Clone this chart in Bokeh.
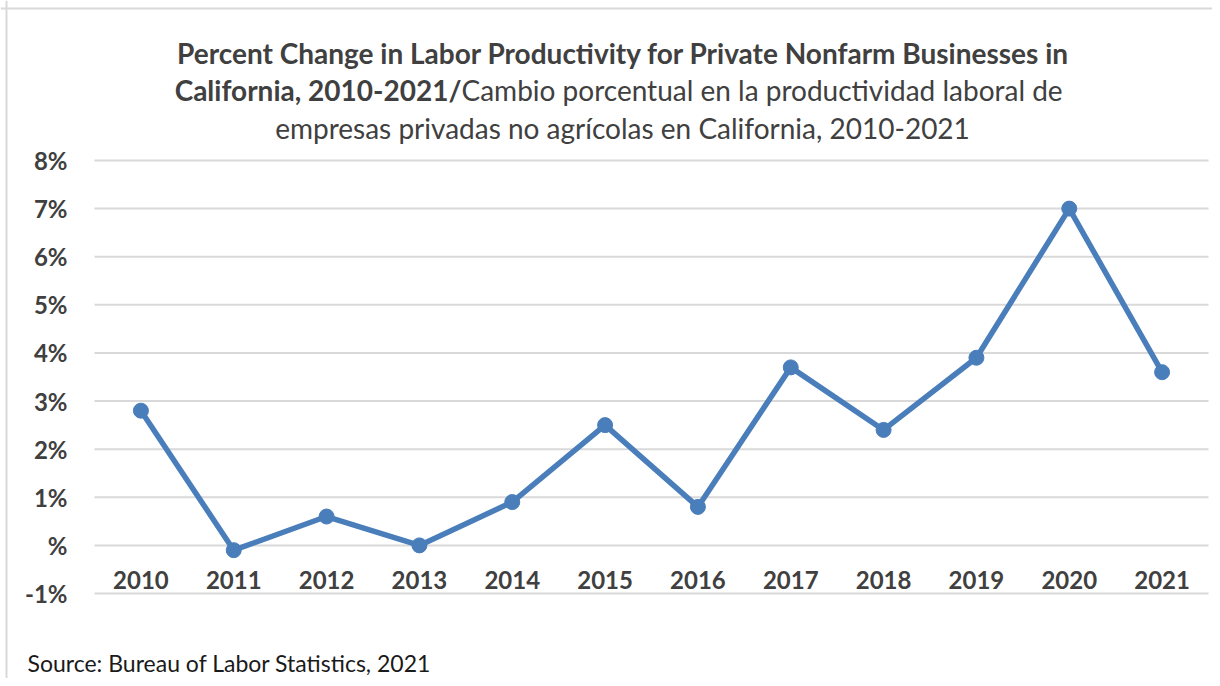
from bokeh.plotting import figure
from bokeh.models import Range1d, Label, Span
from bokeh.core.properties import value
from bokeh.embed import file_html
from bokeh.resources import INLINE

years = [2010, 2011, 2012, 2013, 2014, 2015, 2016, 2017, 2018, 2019, 2020, 2021]
year_labels = [str(y) for y in years]
productivity = [2.8, -0.1, 0.6, 0.0, 0.9, 2.5, 0.8, 3.7, 2.4, 3.9, 7.0, 3.6]
y_ticks = [-1, 0, 1, 2, 3, 4, 5, 6, 7, 8]
y_tick_labels = ["-1%", "%", "1%", "2%", "3%", "4%", "5%", "6%", "7%", "8%"]

title_bold_1 = "Percent Change in Labor Productivity for Private Nonfarm Businesses in"
title_bold_2 = "California, 2010-2021/"
title_norm_2 = "Cambio porcentual en la productividad laboral de"
title_norm_3 = "empresas privadas no agrícolas en California, 2010-2021"
source_text = "Source: Bureau of Labor Statistics, 2021"

FONT = "Lato"
BLUE = "#4a7ebb"
DARK = "#404040"

W, H = 1212, 678
# plot area geometry (page pixels)
FL, FT, FR, FB = 94, 160, 1208, 593
X0, X1 = 2009.5, 2021.5
Y0, Y1 = -1, 8
sx = (X1 - X0) / (FR - FL)
sy = (Y1 - Y0) / (FB - FT)

p = figure(width=W, height=H, output_backend="svg", toolbar_location=None,
           x_range=Range1d(X0 - FL * sx, X1 + (W - FR) * sx),
           y_range=Range1d(Y0 - (H - FB) * sy, Y1 + FT * sy),
           x_axis_location=None, y_axis_location=None, min_border=0)
p.outline_line_color = None
p.grid.visible = False

# chart-area border (left and top edges visible in the reference)
p.add_layout(Span(location=X0 - (FL - 6) * sx, dimension="height",
                  line_color="#d9d9d9", line_width=2))
p.add_layout(Span(location=Y1 + (FT - 8) * sy, dimension="width",
                  line_color="#d9d9d9", line_width=2))

# horizontal gridlines at the y ticks, spanning the plot area
p.segment(x0=[X0] * len(y_ticks), x1=[X1] * len(y_ticks), y0=y_ticks, y1=y_ticks,
          line_color="#d9d9d9", line_width=2)

# y tick labels
p.text(x=[X0] * len(y_ticks), y=y_ticks, text=y_tick_labels, x_offset=-27,
       text_align="right", text_baseline="middle",
       text_font=value(FONT), text_font_style="bold", text_font_size="24px",
       text_color=DARK)

# x category labels next to the zero line
p.text(x=years, y=[0] * len(years), text=year_labels, y_offset=35,
       text_align="center", text_baseline="middle",
       text_font=value(FONT), text_font_style="bold", text_font_size="24px",
       text_color=DARK)

p.line(years, productivity, line_color=BLUE, line_width=5.5)
p.scatter(years, productivity, size=15, fill_color=BLUE, line_color=BLUE)


def add_label(txt, px, py, align, bold, size, color=DARK):
    p.add_layout(Label(x=px, y=py, x_units="canvas", y_units="canvas",
                       text=txt, text_align=align,
                       text_baseline="middle", text_font=FONT,
                       text_font_style="bold" if bold else "normal",
                       text_font_size=size, text_color=color))


add_label(title_bold_1, 623, 52, "center", True, "28px")
add_label(title_bold_2, 461, 89, "right", True, "28px")
add_label(title_norm_2, 461, 89, "left", False, "28px")
add_label(title_norm_3, 622, 127, "center", False, "28px")
add_label(source_text, 27, 662, "left", False, "23px", "#1a1a1a")

open("out.html", "w").write(file_html(p, INLINE))
